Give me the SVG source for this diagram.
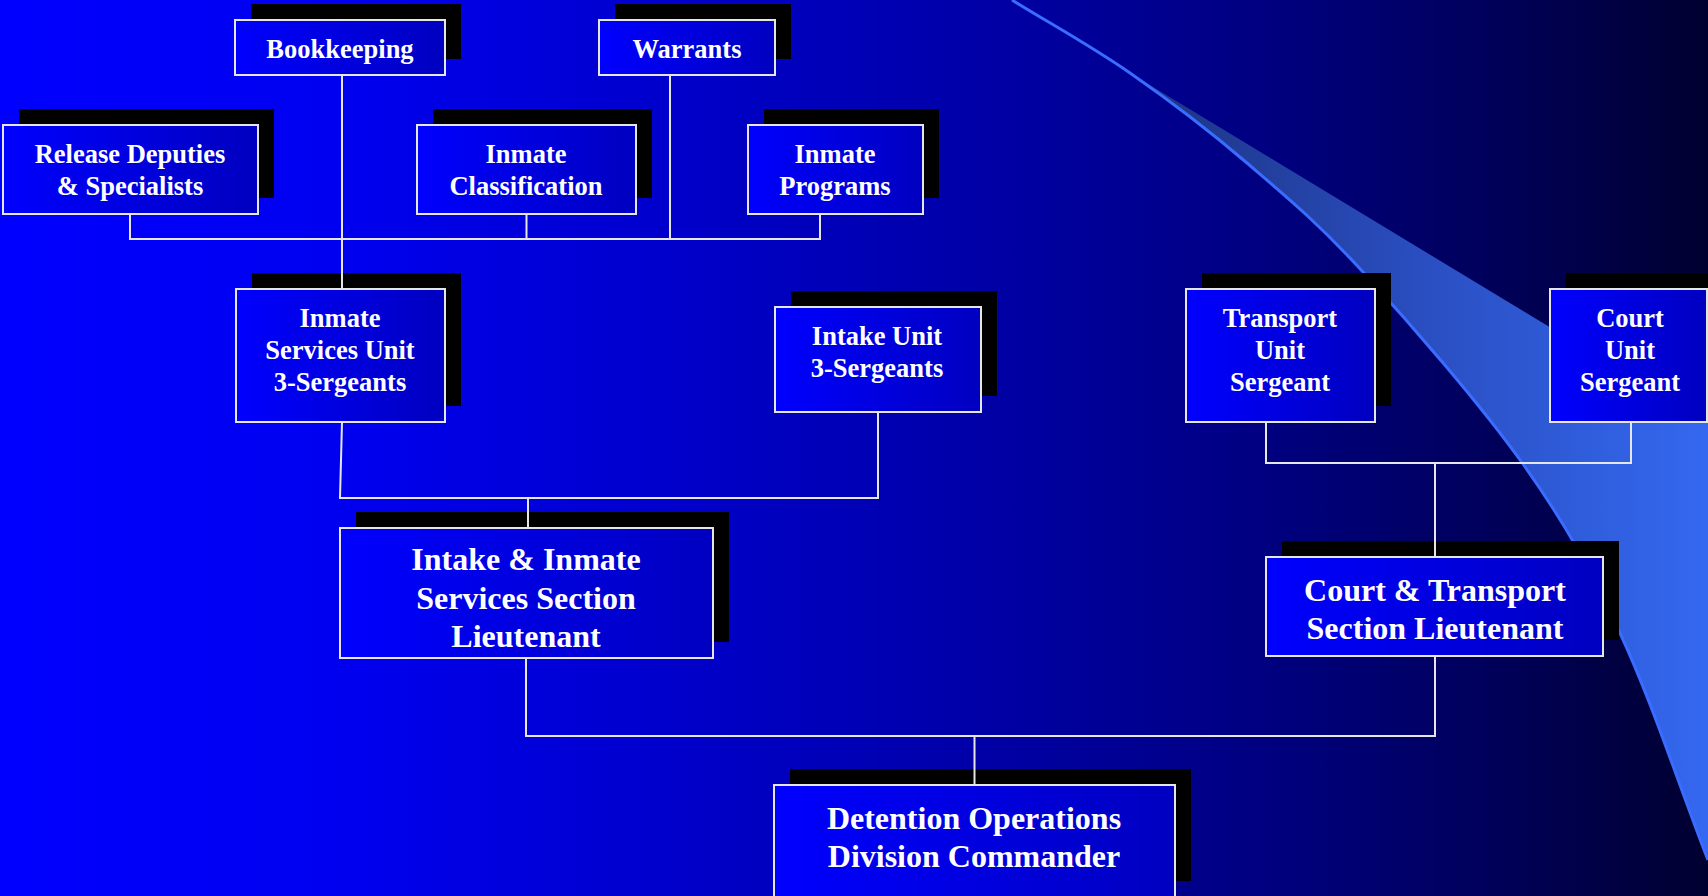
<svg xmlns="http://www.w3.org/2000/svg" width="1708" height="896" viewBox="0 0 1708 896">
<defs>
<linearGradient id="bg" x1="0" y1="0" x2="1" y2="0">
<stop offset="0" stop-color="#0000FF"/>
<stop offset="0.2" stop-color="#0000F0"/>
<stop offset="0.41" stop-color="#0000C8"/>
<stop offset="0.57" stop-color="#0000A8"/>
<stop offset="0.75" stop-color="#00007E"/>
<stop offset="0.87" stop-color="#00005C"/>
<stop offset="1" stop-color="#000030"/>
</linearGradient>
<linearGradient id="band" gradientUnits="userSpaceOnUse" x1="1130" y1="0" x2="1708" y2="0">
<stop offset="0" stop-color="#1C3280"/>
<stop offset="0.5" stop-color="#2A4EC0"/>
<stop offset="1" stop-color="#3468F0"/>
</linearGradient>
<linearGradient id="boxfill" x1="0" y1="0" x2="1" y2="0">
<stop offset="0" stop-color="#0000FF"/>
<stop offset="1" stop-color="#0000C0"/>
</linearGradient>
<style>
.sh{fill:#000000}
.bx{fill:url(#boxfill);stroke:#E6E6E6;stroke-width:2}
.t{font-family:"Liberation Serif","Times New Roman",serif;font-weight:bold;fill:#FFFFFF;text-anchor:middle}
.s{font-size:26.5px}
.l{font-size:32px}
.c{fill:none;stroke:#E6E6E6;stroke-width:2}
</style>
</defs>
<rect x="0" y="0" width="1708" height="896" fill="url(#bg)"/>
<g id="swoosh">
<path d="M1130,73 L1708,423 L1708,860 C1678.7,784.3 1650.8,699 1620,633 C1589.2,567 1565.8,524.2 1523,464 C1480.2,403.8 1409,322.2 1363,272 C1317,221.8 1285.8,196.2 1247,163 C1208.2,129.8 1169.2,100.2 1130,73 Z" fill="url(#band)"/>
<path d="M1012,0 C1051.3,24.3 1090.8,45.8 1130,73 C1169.2,100.2 1208.2,129.8 1247,163 C1285.8,196.2 1317,221.8 1363,272 C1409,322.2 1480.2,403.8 1523,464 C1565.8,524.2 1589.2,567 1620,633 C1650.8,699 1678.7,784.3 1708,860" fill="none" stroke="#3A6CFF" stroke-width="3"/>
</g>
<g id="bookkeeping">
<rect class="sh" x="251" y="4" width="210" height="55"/>
<rect class="bx" x="235" y="20" width="210" height="55"/>
<text class="t s" x="340" y="58">Bookkeeping</text>
</g>
<g id="warrants">
<rect class="sh" x="615" y="4" width="176" height="55"/>
<rect class="bx" x="599" y="20" width="176" height="55"/>
<text class="t s" x="687" y="58">Warrants</text>
</g>
<g id="release">
<rect class="sh" x="19" y="109" width="255" height="89"/>
<rect class="bx" x="3" y="125" width="255" height="89"/>
<text class="t s" x="130" y="163">Release Deputies</text>
<text class="t s" x="130" y="195">&amp; Specialists</text>
</g>
<g id="classification">
<rect class="sh" x="433" y="109" width="219" height="89"/>
<rect class="bx" x="417" y="125" width="219" height="89"/>
<text class="t s" x="526" y="163">Inmate</text>
<text class="t s" x="526" y="195">Classification</text>
</g>
<g id="programs">
<rect class="sh" x="764" y="109" width="175" height="89"/>
<rect class="bx" x="748" y="125" width="175" height="89"/>
<text class="t s" x="835" y="163">Inmate</text>
<text class="t s" x="835" y="195">Programs</text>
</g>
<g id="inmate-services-unit">
<rect class="sh" x="252" y="273" width="209" height="133"/>
<rect class="bx" x="236" y="289" width="209" height="133"/>
<text class="t s" x="340" y="326.5">Inmate</text>
<text class="t s" x="340" y="358.5">Services Unit</text>
<text class="t s" x="340" y="390.5">3-Sergeants</text>
</g>
<g id="intake-unit">
<rect class="sh" x="791" y="291" width="206" height="105"/>
<rect class="bx" x="775" y="307" width="206" height="105"/>
<text class="t s" x="877" y="344.5">Intake Unit</text>
<text class="t s" x="877" y="376.5">3-Sergeants</text>
</g>
<g id="transport-unit">
<rect class="sh" x="1202" y="273" width="189" height="133"/>
<rect class="bx" x="1186" y="289" width="189" height="133"/>
<text class="t s" x="1280" y="326.5">Transport</text>
<text class="t s" x="1280" y="358.5">Unit</text>
<text class="t s" x="1280" y="390.5">Sergeant</text>
</g>
<g id="court-unit">
<rect class="sh" x="1566" y="273" width="160" height="133"/>
<rect class="bx" x="1550" y="289" width="157" height="133"/>
<text class="t s" x="1630" y="326.5">Court</text>
<text class="t s" x="1630" y="358.5">Unit</text>
<text class="t s" x="1630" y="390.5">Sergeant</text>
</g>
<g id="intake-inmate-section">
<rect class="sh" x="356" y="512" width="373" height="130"/>
<rect class="bx" x="340" y="528" width="373" height="130"/>
<text class="t l" x="526" y="570">Intake &amp; Inmate</text>
<text class="t l" x="526" y="608.5">Services Section</text>
<text class="t l" x="526" y="647">Lieutenant</text>
</g>
<g id="court-transport-section">
<rect class="sh" x="1282" y="541" width="337" height="99"/>
<rect class="bx" x="1266" y="557" width="337" height="99"/>
<text class="t l" x="1435" y="600.5">Court &amp; Transport</text>
<text class="t l" x="1435" y="638.5">Section Lieutenant</text>
</g>
<g id="division-commander">
<rect class="sh" x="790" y="769" width="401" height="112"/>
<rect class="bx" x="774" y="785" width="401" height="130"/>
<text class="t l" x="974" y="828.5">Detention Operations</text>
<text class="t l" x="974" y="866.5">Division Commander</text>
</g>
<g id="connectors">
<path class="c" d="M342,75 V289"/>
<path class="c" d="M130,214 V239 H820 V214"/>
<path class="c" d="M526.5,214 V239"/>
<path class="c" d="M670,75 V239"/>
<path class="c" d="M342,422 L340,498 H878 V412"/>
<path class="c" d="M528,498 V528"/>
<path class="c" d="M526,658 V736 H1435 V656"/>
<path class="c" d="M974.5,736 V785"/>
<path class="c" d="M1435,557 V463"/>
<path class="c" d="M1266,422 V463 H1631 V422"/>
</g>
</svg>
